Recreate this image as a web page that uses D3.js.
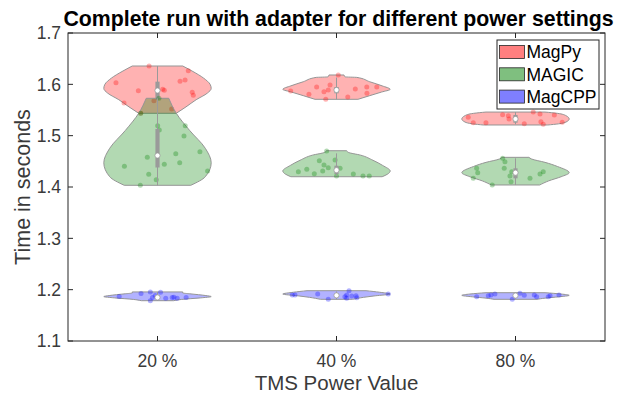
<!DOCTYPE html>
<html>
<head>
<meta charset="utf-8">
<script src="https://cdn.jsdelivr.net/npm/d3@7"></script>
<style>
  body { margin: 0; background: #fff; }
  text { font-family: "Liberation Sans", Arial, Helvetica, sans-serif; }
</style>
</head>
<body>
<svg id="chart" width="617" height="395"></svg>
<script>
const categories = ["20 %", "40 %", "80 %"];
const seriesNames = ["MagPy", "MAGIC", "MagCPP"];
const seriesColors = ["#ff0000", "#008000", "#0000ff"];
const yTicks = [1.1, 1.2, 1.3, 1.4, 1.5, 1.6, 1.7];

// samples per category: [time, jitter in category units]
const magpyPoints = [
  [[1.6357, -0.047], [1.6266, 0.172], [1.6032, -0.232], [1.6084, 0.154], [1.6059, 0.126], [1.5876, -0.107], [1.5903, 0.029],
   [1.5884, 0.038], [1.5845, 0.194], [1.5786, 0.2], [1.5636, -0.187], [1.5681, -0.02], [1.5519, 0.079], [1.5436, -0.094]],
  [[1.6182, 0.01], [1.5948, -0.111], [1.5987, -0.036], [1.589, -0.046], [1.5857, -0.07], [1.5806, -0.154], [1.587, -0.256],
   [1.5708, -0.06], [1.5753, 0.063], [1.5909, 0.105], [1.5948, 0.169], [1.5825, 0.17], [1.5948, 0.225]],
  [[1.5358, -0.264], [1.5253, -0.236], [1.5253, -0.165], [1.5409, -0.072], [1.539, -0.04], [1.5325, -0.036], [1.5234, 0.049],
   [1.546, 0.099], [1.5422, 0.137], [1.5272, 0.142], [1.5221, 0.155], [1.5403, 0.217], [1.526, 0.261]]
];
const magicPoints = [
  [[1.5728, 0.008], [1.5436, -0.094], [1.5194, 0.001], [1.511, 0.01], [1.5194, 0.155], [1.4993, 0.148], [1.4688, 0.237],
   [1.4649, 0.102], [1.4578, -0.057], [1.4473, 0.124], [1.4442, 0.038], [1.4403, -0.185], [1.4312, 0.28], [1.4247, -0.049],
   [1.4142, -0.007], [1.4033, -0.096]],
  [[1.4701, -0.055], [1.4512, -0.096], [1.4428, -0.07], [1.4376, -0.046], [1.4312, -0.077], [1.4344, -0.166], [1.4298, -0.213],
   [1.4259, -0.124], [1.4253, 0.094], [1.4214, 0.148], [1.4214, 0.183], [1.4526, -0.008], [1.4214, 0.0], [1.4365, 0.02]],
  [[1.4559, -0.072], [1.4493, -0.059], [1.4364, -0.063], [1.4364, -0.217], [1.4279, -0.211], [1.4169, -0.236], [1.4298, -0.021],
   [1.4214, -0.031], [1.4103, -0.025], [1.4039, -0.13], [1.4169, 0.081], [1.4253, 0.137], [1.4298, 0.155]]
];
const magcppPoints = [
  [[1.1869, -0.214], [1.1923, -0.092], [1.1956, -0.04], [1.195, 0.017], [1.1847, -0.028], [1.1785, -0.04], [1.1833, 0.046],
   [1.1847, 0.082], [1.1833, 0.11], [1.1847, 0.16], [1.1888, -0.013], [1.185, 0.092]],
  [[1.1896, -0.247], [1.1896, -0.232], [1.1915, -0.105], [1.1812, -0.046], [1.1863, 0.047], [1.1896, 0.057], [1.198, 0.07],
   [1.1876, 0.085], [1.1882, 0.109], [1.1843, 0.113], [1.1915, 0.289], [1.1831, 0.057]],
  [[1.1863, -0.217], [1.1882, -0.152], [1.1896, -0.137], [1.1915, -0.115], [1.1812, -0.018], [1.1928, 0.025], [1.1889, 0.049],
   [1.1896, 0.105], [1.1863, 0.118], [1.1863, 0.183], [1.1882, 0.193], [1.1896, 0.243]]
];

// violin outlines per category: [time, relative half width]
const magpyShapes = [
  [[1.6357, 0.47], [1.625, 0.66], [1.612, 0.86], [1.600, 0.98], [1.592, 1.0], [1.583, 0.93], [1.570, 0.72], [1.556, 0.53], [1.5436, 0.35]],
  [[1.6182, 0.14], [1.6145, 0.16], [1.6135, 0.38], [1.605, 0.62], [1.597, 0.85], [1.5903, 1.0], [1.585, 0.84], [1.578, 0.62], [1.5708, 0.4]],
  [[1.546, 0.55], [1.5435, 0.78], [1.539, 0.94], [1.5325, 1.0], [1.5265, 0.94], [1.523, 0.8], [1.5208, 0.6]]
];
const magicShapes = [
  [[1.5728, 0.21], [1.5436, 0.35], [1.51, 0.6], [1.4754, 0.89], [1.4473, 1.0], [1.42, 0.89], [1.4033, 0.62]],
  [[1.4707, 0.19], [1.4675, 0.22], [1.462, 0.45], [1.452, 0.68], [1.442, 0.86], [1.4312, 1.0], [1.425, 0.95], [1.42, 0.85]],
  [[1.4578, 0.25], [1.4545, 0.3], [1.448, 0.55], [1.44, 0.78], [1.4279, 1.0], [1.42, 0.85], [1.412, 0.62], [1.4039, 0.45]]
];
const magcppShapes = [
  [[1.1956, 0.47], [1.1935, 0.47], [1.192, 0.6], [1.1885, 0.9], [1.1865, 1.0], [1.184, 0.8], [1.181, 0.45], [1.1785, 0.3]],
  [[1.198, 0.55], [1.195, 0.8], [1.1915, 1.0], [1.188, 0.72], [1.185, 0.5], [1.1812, 0.3]],
  [[1.1941, 0.55], [1.1915, 0.85], [1.189, 1.0], [1.186, 0.8], [1.1835, 0.55], [1.1812, 0.4]]
];

const allPoints = [magpyPoints, magicPoints, magcppPoints];
const allShapes = [magpyShapes, magicShapes, magcppShapes];

const svg = d3.select("#chart");
const plotBox = { left: 68, right: 605, top: 33, bottom: 341 };
const violinWidth = 0.3, boxWidth = 0.02;
const axisColor = "#262626", boxColor = "#9a9a9a";

const x = d3.scaleLinear().domain([0.5, categories.length + 0.5]).range([plotBox.left, plotBox.right]);
const y = d3.scaleLinear().domain([1.1, 1.7]).range([plotBox.bottom, plotBox.top]);

// violins
const plot = svg.append("g").attr("class", "violins");
allShapes.forEach((shapes, s) => {
  shapes.forEach((shape, c) => {
    const ci = c + 1;
    const g = plot.append("g");
    const area = d3.area()
      .y((d) => y(d[0]))
      .x0((d) => x(ci - d[1] * violinWidth))
      .x1((d) => x(ci + d[1] * violinWidth))
      .curve(d3.curveMonotoneY);
    g.append("path")
      .attr("d", area(shape))
      .attr("fill", seriesColors[s])
      .attr("fill-opacity", 0.3)
      .attr("stroke", "#959595")
      .attr("stroke-width", 1);

    const pts = allPoints[s][c];
    g.selectAll("circle.pt")
      .data(pts)
      .join("circle")
      .attr("class", "pt")
      .attr("cx", (d) => x(ci + d[1]))
      .attr("cy", (d) => y(d[0]))
      .attr("r", 2.5)
      .attr("fill", seriesColors[s])
      .attr("fill-opacity", 0.3);

    // box, whiskers, median
    const vals = pts.map((d) => d[0]).sort(d3.ascending);
    const q1 = d3.quantile(vals, 0.25), med = d3.quantile(vals, 0.5), q3 = d3.quantile(vals, 0.75);
    const iqr = q3 - q1;
    const lo = Math.max(q1 - 1.5 * iqr, vals[0]);
    const hi = Math.min(q3 + 1.5 * iqr, vals[vals.length - 1]);
    g.append("line")
      .attr("x1", x(ci)).attr("x2", x(ci))
      .attr("y1", y(lo)).attr("y2", y(hi))
      .attr("stroke", boxColor).attr("stroke-width", 1);
    g.append("rect")
      .attr("x", x(ci - boxWidth / 2) - 0.3)
      .attr("width", x(ci + boxWidth / 2) - x(ci - boxWidth / 2) + 0.6)
      .attr("y", y(q3))
      .attr("height", y(q1) - y(q3))
      .attr("fill", boxColor);
    g.append("circle")
      .attr("cx", x(ci)).attr("cy", y(med))
      .attr("r", 2.6)
      .attr("fill", "#fff")
      .attr("stroke", boxColor).attr("stroke-width", 0.8);
  });
});

// axes frame and ticks
const frame = svg.append("g").attr("class", "frame");
frame.append("rect")
  .attr("x", plotBox.left).attr("y", plotBox.top)
  .attr("width", plotBox.right - plotBox.left).attr("height", plotBox.bottom - plotBox.top)
  .attr("fill", "none").attr("stroke", axisColor).attr("stroke-width", 1);

const tickLen = 5;
yTicks.forEach((t) => {
  frame.append("line").attr("x1", plotBox.left).attr("x2", plotBox.left + tickLen).attr("y1", y(t)).attr("y2", y(t)).attr("stroke", axisColor);
  frame.append("line").attr("x1", plotBox.right).attr("x2", plotBox.right - tickLen).attr("y1", y(t)).attr("y2", y(t)).attr("stroke", axisColor);
  frame.append("text")
    .attr("x", plotBox.left - 7).attr("y", y(t))
    .attr("dy", "0.36em")
    .attr("text-anchor", "end")
    .attr("font-size", 17.5)
    .attr("fill", "#3a3a3a")
    .text(d3.format(".1f")(t));
});
categories.forEach((cat, i) => {
  const cx = x(i + 1);
  frame.append("line").attr("x1", cx).attr("x2", cx).attr("y1", plotBox.bottom).attr("y2", plotBox.bottom - tickLen).attr("stroke", axisColor);
  frame.append("line").attr("x1", cx).attr("x2", cx).attr("y1", plotBox.top).attr("y2", plotBox.top + tickLen).attr("stroke", axisColor);
  frame.append("text")
    .attr("x", cx).attr("y", plotBox.bottom + 26)
    .attr("text-anchor", "middle")
    .attr("font-size", 17.5)
    .attr("fill", "#3a3a3a")
    .text(cat);
});

// labels
const midX = (plotBox.left + plotBox.right) / 2;
svg.append("text")
  .attr("x", midX + 2).attr("y", 26)
  .attr("text-anchor", "middle")
  .attr("font-size", 21.3).attr("font-weight", "bold")
  .attr("fill", "#000")
  .text("Complete run with adapter for different power settings");
svg.append("text")
  .attr("x", midX).attr("y", 390)
  .attr("text-anchor", "middle")
  .attr("font-size", 20.5)
  .attr("fill", "#3a3a3a")
  .text("TMS Power Value");
svg.append("text")
  .attr("transform", `translate(30, ${(plotBox.top + plotBox.bottom) / 2}) rotate(-90)`)
  .attr("text-anchor", "middle")
  .attr("font-size", 21.5)
  .attr("fill", "#3a3a3a")
  .text("Time in seconds");

// legend
const legend = svg.append("g").attr("transform", "translate(497, 40)");
legend.append("rect")
  .attr("width", 102).attr("height", 69)
  .attr("fill", "#fff").attr("stroke", axisColor).attr("stroke-width", 1);
seriesNames.forEach((name, i) => {
  const row = legend.append("g").attr("transform", `translate(2.5, ${5.5 + i * 22.3})`);
  row.append("rect")
    .attr("width", 25).attr("height", 13)
    .attr("fill", seriesColors[i]).attr("fill-opacity", 0.5)
    .attr("stroke", axisColor).attr("stroke-width", 0.8);
  row.append("text")
    .attr("x", 27).attr("y", 6.5).attr("dy", "0.36em")
    .attr("font-size", 17.5)
    .attr("fill", "#000")
    .text(name);
});
</script>
</body>
</html>
